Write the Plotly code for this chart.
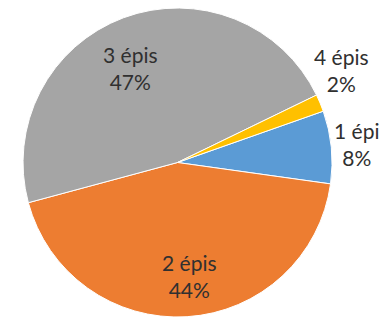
import math
import plotly.graph_objects as go

# Data
categories = ["1 épi", "2 épis", "3 épis", "4 épis"]
values = [7.6, 43.6, 47.0, 1.8]
colors = ["#5B9BD5", "#ED7D31", "#A5A5A5", "#FFC000"]

# Style: label radius factor (relative to pie radius) and angular nudge (deg)
label_radius = [1.167, 0.74, 0.686, 1.22]
label_nudge = [-0.2, -2.6, -5.9, -6.9]

W, H = 383, 317
mt, mb, ml, mr = 8, 0, 0, 0
dom_x = [0.0, 0.927]
dom_y = [0.0, 1.0]
rotation = 70.6

fig = go.Figure(go.Pie(
    labels=categories,
    values=values,
    sort=False,
    direction="clockwise",
    rotation=rotation,
    marker=dict(colors=colors, line=dict(color="white", width=1)),
    textinfo="none",
    hoverinfo="label+percent",
    showlegend=False,
    domain=dict(x=dom_x, y=dom_y),
))

# plot geometry in pixels
pw = W - ml - mr
ph = H - mt - mb
cx = ml + pw * (dom_x[0] + dom_x[1]) / 2
cy = mt + ph * (1 - (dom_y[0] + dom_y[1]) / 2)
R = min(pw * (dom_x[1] - dom_x[0]), ph * (dom_y[1] - dom_y[0])) / 2

total = sum(values)
cum = 0.0
annotations = []
for i, (cat, v) in enumerate(zip(categories, values)):
    mid = rotation + 360.0 * (cum + v / 2) / total + label_nudge[i]
    cum += v
    th = math.radians(mid)
    px = cx + R * label_radius[i] * math.sin(th)
    py = cy - R * label_radius[i] * math.cos(th)
    pct = round(100 * v / total)
    annotations.append(dict(
        x=(px - ml) / pw, y=1 - (py - mt) / ph,
        xref="paper", yref="paper",
        xanchor="center", yanchor="middle",
        text=f"{cat}<br>{pct}%",
        showarrow=False,
        font=dict(family="Lato", size=21, color="#303030"),
    ))

fig.update_layout(
    width=W, height=H,
    margin=dict(l=ml, r=mr, t=mt, b=mb, pad=0),
    paper_bgcolor="white",
    plot_bgcolor="white",
    annotations=annotations,
)

fig.write_html("out.html", config={"displayModeBar": False},
               post_script="document.body.style.margin='0';")
